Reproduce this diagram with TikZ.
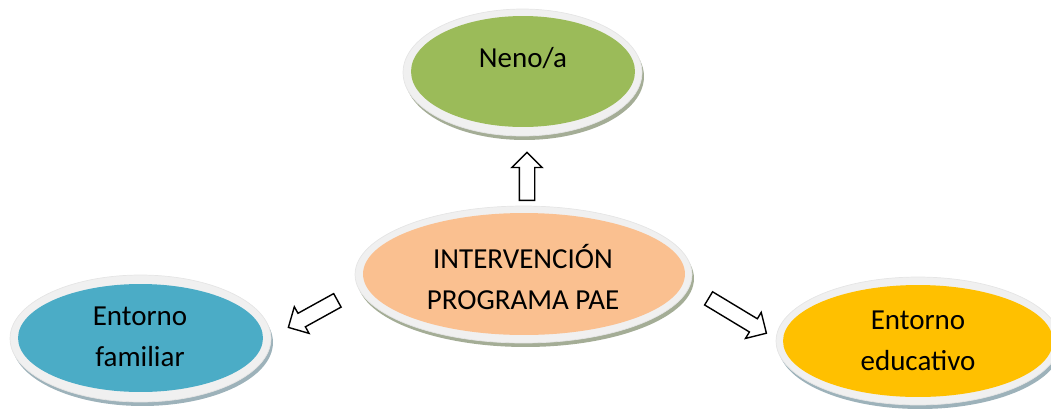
\documentclass[tikz,border=0pt]{standalone}
\usepackage{fontspec}
\setmainfont{Carlito}
\usetikzlibrary{shapes.geometric, shapes.arrows, calc}

\definecolor{nenogreen}{HTML}{9BBB59}
\definecolor{pacepeach}{HTML}{FAC090}
\definecolor{famblue}{HTML}{4BACC6}
\definecolor{edugold}{HTML}{FFC000}
\definecolor{ringgray}{HTML}{F0F0F0}
\definecolor{shadowolive}{HTML}{A4AD96}
\definecolor{shadowblue}{HTML}{9DB2BA}

\tikzset{
  ring/.style={ellipse, draw=gray!20, fill=ringgray, inner sep=0pt},
  bubble/.style={ellipse, inner sep=0pt},
  shade/.style={ellipse, inner sep=0pt},
  caption/.style={font=\fontsize{16.5}{23}\selectfont, align=center},
  blockarrow/.style={single arrow, draw, fill=white, line width=0.8pt, inner sep=0pt,
    inner ysep=0.14cm, single arrow head extend=0.15cm, anchor=tail}
}

\begin{document}
\begin{tikzpicture}[x=0.02cm, y=-0.02cm]
      \useasboundingbox (0, 0) rectangle (1051, 413);

      \node[shade, fill=shadowolive, minimum width=4.78cm, minimum height=2.54cm] (nenoshade) at (524.5, 76.5) {};
      \node[ring, minimum width=4.78cm, minimum height=2.54cm] (nenoring) at (522.5, 72.5) {};
      \node[bubble, fill=nenogreen, minimum width=4.48cm, minimum height=2.22cm] (neno) at (523, 71.5) {};
      \node[caption] (nenotext) at (523, 58) {Neno/a};

      \node[shade, fill=shadowolive, minimum width=6.74cm, minimum height=2.74cm] (paeshade) at (525.5, 278.5) {};
      \node[ring, minimum width=6.74cm, minimum height=2.74cm] (paering) at (523.5, 274.5) {};
      \node[bubble, fill=pacepeach, minimum width=6.44cm, minimum height=2.44cm] (pae) at (524, 274) {};
      \node[caption] (paetext) at (523, 277) {INTERVENCIÓN\\PROGRAMA PAE};

      \node[shade, fill=shadowblue, minimum width=5.22cm, minimum height=2.54cm] (familiarshade) at (142.5, 342.5) {};
      \node[ring, minimum width=5.22cm, minimum height=2.54cm] (familiarring) at (140.5, 338.5) {};
      \node[bubble, fill=famblue, minimum width=4.90cm, minimum height=2.16cm] (familiar) at (140.5, 338) {};
      \node[caption] (familiartext) at (140, 337) {Entorno\\familiar};

      \node[shade, fill=shadowblue, minimum width=5.68cm, minimum height=2.56cm] (educativoshade) at (920, 345) {};
      \node[ring, minimum width=5.68cm, minimum height=2.56cm] (educativoring) at (918, 341) {};
      \node[bubble, fill=edugold, minimum width=5.40cm, minimum height=2.24cm] (educativo) at (918, 341) {};
      \node[caption] (educativotext) at (918, 341) {Entorno\\educativo};

      \node[blockarrow, rotate=90, minimum height=0.96cm] (upar) at (527, 201) {};
      \node[blockarrow, rotate=208.9, minimum height=1.12cm] (leftar) at (338, 300) {};
      \node[blockarrow, rotate=-31.1, minimum height=1.35cm] (rightar) at (708, 298) {};
\end{tikzpicture}
\end{document}
